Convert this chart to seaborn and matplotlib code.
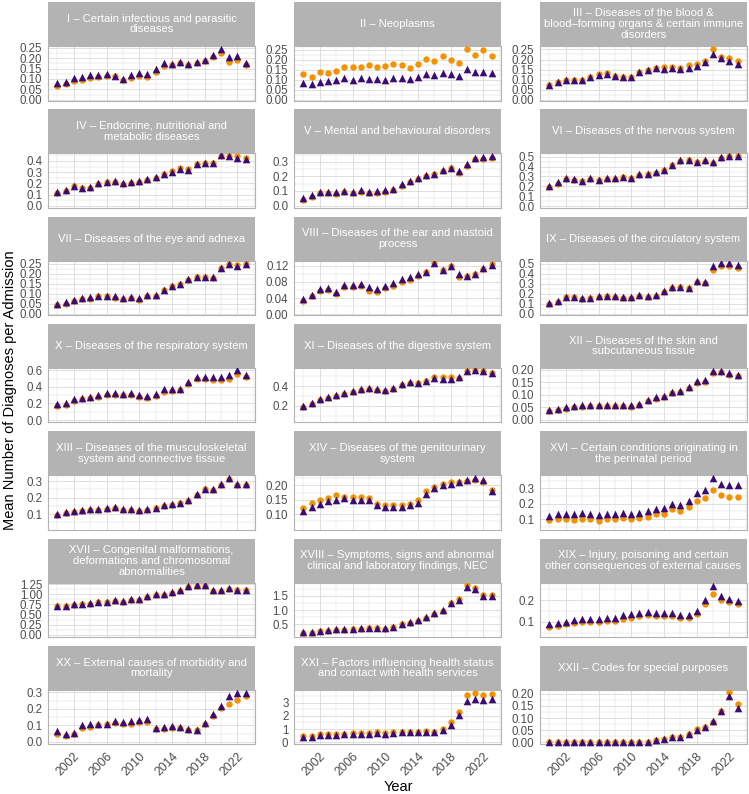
import numpy as np
import pandas as pd
import matplotlib
matplotlib.use("Agg")
import matplotlib.pyplot as plt
import seaborn as sns

# ---------------- data ----------------
years = list(range(2000, 2024))

chapters = ["I", "II", "III", "IV", "V", "VI", "VII", "VIII", "IX", "X", "XI",
            "XII", "XIII", "XIV", "XVI", "XVII", "XVIII", "XIX", "XX", "XXI", "XXII"]

titles = [
    "I – Certain infectious and parasitic\ndiseases",
    "II – Neoplasms",
    "III – Diseases of the blood &\nblood–forming organs & certain immune\ndisorders",
    "IV – Endocrine, nutritional and\nmetabolic diseases",
    "V – Mental and behavioural disorders",
    "VI – Diseases of the nervous system",
    "VII – Diseases of the eye and adnexa",
    "VIII – Diseases of the ear and mastoid\nprocess",
    "IX – Diseases of the circulatory system",
    "X – Diseases of the respiratory system",
    "XI – Diseases of the digestive system",
    "XII – Diseases of the skin and\nsubcutaneous tissue",
    "XIII – Diseases of the musculoskeletal\nsystem and connective tissue",
    "XIV – Diseases of the genitourinary\nsystem",
    "XVI – Certain conditions originating in\nthe perinatal period",
    "XVII – Congenital malformations,\ndeformations and chromosomal\nabnormalities",
    "XVIII – Symptoms, signs and abnormal\nclinical and laboratory findings, NEC",
    "XIX – Injury, poisoning and certain\nother consequences of external causes",
    "XX – External causes of morbidity and\nmortality",
    "XXI – Factors influencing health status\nand contact with health services",
    "XXII – Codes for special purposes",
]

# circles (orange) and triangles (purple)
I_orange = [0.065,0.075,0.09,0.095,0.105,0.11,0.115,0.115,0.095,0.105,0.115,0.11,0.135,0.16,0.165,0.175,0.165,0.175,0.185,0.205,0.225,0.18,0.19,0.165]
I_purple = [0.08,0.085,0.105,0.11,0.12,0.12,0.125,0.115,0.10,0.12,0.13,0.125,0.15,0.175,0.17,0.18,0.17,0.18,0.19,0.215,0.245,0.205,0.21,0.175]
II_orange = [0.13,0.115,0.138,0.135,0.145,0.165,0.162,0.165,0.175,0.165,0.17,0.18,0.172,0.16,0.178,0.202,0.192,0.22,0.198,0.186,0.255,0.225,0.25,0.218]
II_purple = [0.085,0.08,0.09,0.095,0.098,0.107,0.10,0.107,0.105,0.103,0.10,0.108,0.11,0.103,0.112,0.128,0.125,0.135,0.127,0.12,0.152,0.138,0.138,0.135]
III_orange = [0.075,0.088,0.10,0.10,0.10,0.115,0.128,0.132,0.118,0.113,0.112,0.137,0.148,0.16,0.163,0.163,0.16,0.175,0.18,0.193,0.252,0.212,0.21,0.192]
III_purple = [0.075,0.087,0.10,0.10,0.10,0.113,0.125,0.128,0.116,0.112,0.112,0.137,0.146,0.158,0.152,0.158,0.155,0.16,0.168,0.188,0.225,0.207,0.193,0.178]
IV_orange = [0.115,0.135,0.175,0.155,0.16,0.195,0.215,0.215,0.195,0.205,0.215,0.23,0.25,0.28,0.31,0.34,0.325,0.37,0.38,0.38,0.445,0.44,0.44,0.43]
IV_purple = [0.12,0.14,0.18,0.16,0.165,0.20,0.215,0.22,0.20,0.21,0.22,0.235,0.26,0.285,0.305,0.33,0.32,0.37,0.38,0.385,0.45,0.44,0.43,0.42]
V_orange = [0.04,0.06,0.085,0.085,0.08,0.09,0.085,0.095,0.085,0.085,0.095,0.105,0.135,0.165,0.185,0.20,0.215,0.24,0.255,0.225,0.27,0.32,0.32,0.33]
V_purple = [0.05,0.07,0.095,0.095,0.09,0.10,0.095,0.105,0.095,0.10,0.105,0.115,0.145,0.17,0.19,0.21,0.22,0.245,0.26,0.24,0.285,0.33,0.335,0.34]
VI_orange = [0.19,0.225,0.27,0.26,0.25,0.27,0.26,0.275,0.27,0.29,0.28,0.315,0.32,0.34,0.365,0.415,0.46,0.465,0.445,0.46,0.44,0.49,0.505,0.505]
VI_purple = [0.20,0.245,0.285,0.27,0.255,0.28,0.265,0.285,0.28,0.295,0.285,0.32,0.325,0.345,0.37,0.42,0.465,0.47,0.45,0.465,0.445,0.495,0.51,0.51]
VII_orange = [0.045,0.052,0.065,0.075,0.075,0.088,0.088,0.082,0.075,0.08,0.072,0.09,0.092,0.118,0.14,0.148,0.17,0.185,0.185,0.178,0.228,0.25,0.245,0.248]
VII_purple = [0.05,0.06,0.068,0.078,0.085,0.09,0.09,0.088,0.08,0.085,0.078,0.095,0.095,0.12,0.14,0.15,0.172,0.185,0.183,0.182,0.228,0.25,0.24,0.248]
VIII_orange = [0.033,0.044,0.057,0.059,0.05,0.068,0.067,0.069,0.057,0.054,0.064,0.069,0.079,0.085,0.094,0.104,0.126,0.109,0.12,0.092,0.094,0.10,0.112,0.123]
VIII_purple = [0.038,0.048,0.063,0.064,0.054,0.073,0.072,0.074,0.067,0.062,0.07,0.078,0.086,0.092,0.098,0.105,0.126,0.109,0.12,0.098,0.094,0.10,0.113,0.122]
IX_orange = [0.10,0.12,0.165,0.165,0.145,0.155,0.17,0.175,0.17,0.16,0.155,0.18,0.17,0.18,0.215,0.26,0.265,0.255,0.32,0.31,0.44,0.48,0.475,0.455]
IX_purple = [0.11,0.13,0.17,0.17,0.155,0.16,0.175,0.18,0.175,0.17,0.165,0.19,0.18,0.19,0.225,0.265,0.27,0.26,0.325,0.315,0.475,0.505,0.505,0.49]
X_orange = [0.17,0.18,0.23,0.25,0.27,0.28,0.30,0.30,0.30,0.30,0.28,0.27,0.29,0.34,0.35,0.36,0.44,0.50,0.50,0.48,0.48,0.50,0.56,0.52]
X_purple = [0.19,0.20,0.25,0.27,0.28,0.30,0.33,0.33,0.32,0.33,0.30,0.29,0.31,0.37,0.37,0.38,0.46,0.52,0.52,0.52,0.52,0.55,0.60,0.55]
XI_orange = [0.19,0.22,0.26,0.28,0.30,0.32,0.34,0.36,0.37,0.36,0.35,0.37,0.41,0.43,0.43,0.45,0.49,0.49,0.49,0.48,0.55,0.56,0.55,0.53]
XI_purple = [0.20,0.23,0.27,0.29,0.31,0.33,0.35,0.37,0.38,0.37,0.36,0.38,0.42,0.44,0.43,0.45,0.48,0.47,0.47,0.49,0.55,0.56,0.55,0.53]
XII_orange = [0.035,0.04,0.045,0.05,0.052,0.055,0.055,0.055,0.055,0.055,0.053,0.06,0.075,0.085,0.09,0.105,0.11,0.125,0.145,0.15,0.185,0.19,0.18,0.175]
XII_purple = [0.04,0.045,0.05,0.055,0.058,0.06,0.06,0.06,0.06,0.06,0.058,0.065,0.08,0.09,0.095,0.11,0.115,0.13,0.155,0.16,0.195,0.195,0.185,0.18]
XIII_orange = [0.095,0.105,0.115,0.12,0.125,0.125,0.13,0.14,0.125,0.125,0.12,0.125,0.135,0.15,0.155,0.165,0.18,0.215,0.25,0.245,0.275,0.315,0.275,0.275]
XIII_purple = [0.10,0.11,0.12,0.125,0.13,0.13,0.135,0.145,0.13,0.13,0.125,0.13,0.14,0.155,0.16,0.17,0.185,0.22,0.255,0.25,0.28,0.32,0.28,0.28]
XIV_orange = [0.12,0.14,0.15,0.155,0.165,0.16,0.16,0.16,0.155,0.135,0.13,0.13,0.13,0.135,0.15,0.18,0.195,0.205,0.21,0.21,0.215,0.22,0.21,0.185]
XIV_purple = [0.11,0.125,0.135,0.145,0.15,0.155,0.15,0.15,0.15,0.13,0.125,0.125,0.125,0.13,0.14,0.17,0.19,0.20,0.205,0.21,0.22,0.225,0.22,0.18]
XVI_orange = [0.095,0.10,0.10,0.095,0.10,0.10,0.09,0.10,0.10,0.11,0.10,0.105,0.115,0.13,0.135,0.165,0.15,0.18,0.215,0.24,0.29,0.26,0.245,0.245]
XVI_purple = [0.12,0.13,0.135,0.13,0.14,0.135,0.125,0.135,0.13,0.14,0.13,0.14,0.15,0.165,0.17,0.20,0.19,0.22,0.27,0.29,0.37,0.33,0.32,0.32]
XVII_orange = [0.70,0.70,0.73,0.75,0.76,0.80,0.80,0.83,0.82,0.86,0.86,0.93,0.98,0.98,1.03,1.08,1.18,1.20,1.20,1.08,1.08,1.13,1.10,1.10]
XVII_purple = [0.72,0.72,0.75,0.77,0.78,0.82,0.82,0.85,0.84,0.88,0.88,0.95,1.00,1.00,1.05,1.10,1.20,1.22,1.22,1.10,1.10,1.15,1.12,1.12]
XVIII_orange = [0.20,0.20,0.26,0.28,0.30,0.31,0.33,0.34,0.36,0.36,0.34,0.40,0.50,0.56,0.63,0.73,0.88,0.98,1.25,1.40,1.88,1.78,1.55,1.55]
XVIII_purple = [0.22,0.22,0.28,0.30,0.32,0.33,0.35,0.36,0.38,0.38,0.36,0.42,0.52,0.58,0.65,0.75,0.90,1.00,1.25,1.35,1.80,1.75,1.50,1.50]
XIX_orange = [0.075,0.08,0.09,0.095,0.10,0.10,0.10,0.105,0.105,0.115,0.12,0.125,0.13,0.125,0.125,0.125,0.12,0.12,0.135,0.18,0.23,0.20,0.19,0.18]
XIX_purple = [0.09,0.095,0.10,0.11,0.115,0.115,0.115,0.12,0.12,0.13,0.135,0.14,0.145,0.14,0.14,0.14,0.13,0.13,0.15,0.20,0.265,0.22,0.205,0.195]
XX_orange = [0.05,0.035,0.045,0.085,0.09,0.10,0.105,0.115,0.11,0.11,0.12,0.12,0.075,0.08,0.085,0.085,0.07,0.07,0.11,0.155,0.205,0.23,0.255,0.28]
XX_purple = [0.065,0.045,0.055,0.10,0.105,0.11,0.11,0.125,0.12,0.125,0.135,0.14,0.085,0.09,0.095,0.09,0.075,0.072,0.115,0.17,0.22,0.275,0.295,0.295]
XXI_orange = [0.45,0.45,0.60,0.60,0.60,0.65,0.70,0.70,0.70,0.75,0.70,0.75,0.80,0.80,0.80,0.85,0.80,1.00,1.50,2.30,3.60,3.75,3.60,3.65]
XXI_purple = [0.40,0.40,0.55,0.55,0.55,0.60,0.65,0.65,0.65,0.70,0.65,0.70,0.75,0.75,0.75,0.80,0.75,0.90,1.30,2.05,3.15,3.30,3.20,3.30]
XXII_orange = [0,0,0,0,0,0,0,0,0,0,0,0,0.002,0.008,0.012,0.02,0.02,0.035,0.055,0.065,0.085,0.13,0.208,0.158]
XXII_purple = [0,0,0,0,0,0,0,0,0,0,0,0,0.003,0.01,0.013,0.02,0.02,0.035,0.05,0.065,0.09,0.13,0.19,0.14]

# y tick labels per panel
ytick_labels = {
    "I": ["0.00", "0.05", "0.10", "0.15", "0.20", "0.25"],
    "II": ["0.00", "0.05", "0.10", "0.15", "0.20", "0.25"],
    "III": ["0.00", "0.05", "0.10", "0.15", "0.20", "0.25"],
    "IV": ["0.0", "0.1", "0.2", "0.3", "0.4"],
    "V": ["0.0", "0.1", "0.2", "0.3"],
    "VI": ["0.0", "0.1", "0.2", "0.3", "0.4", "0.5"],
    "VII": ["0.00", "0.05", "0.10", "0.15", "0.20", "0.25"],
    "VIII": ["0.00", "0.04", "0.08", "0.12"],
    "IX": ["0.0", "0.1", "0.2", "0.3", "0.4", "0.5"],
    "X": ["0.0", "0.2", "0.4", "0.6"],
    "XI": ["0.2", "0.4"],
    "XII": ["0.00", "0.05", "0.10", "0.15", "0.20"],
    "XIII": ["0.1", "0.2", "0.3"],
    "XIV": ["0.10", "0.15", "0.20"],
    "XVI": ["0.1", "0.2", "0.3"],
    "XVII": ["0.00", "0.25", "0.50", "0.75", "1.00", "1.25"],
    "XVIII": ["0.5", "1.0", "1.5"],
    "XIX": ["0.1", "0.2"],
    "XX": ["0.0", "0.1", "0.2", "0.3"],
    "XXI": ["0", "1", "2", "3"],
    "XXII": ["0.00", "0.05", "0.10", "0.15", "0.20"],
}
xtick_years = [2002, 2006, 2010, 2014, 2018, 2022]

# ---------------- style / layout (not data) ----------------
ylims = {
    "I": (-0.003, 0.258), "II": (-0.003, 0.269), "III": (-0.003, 0.267),
    "IV": (-0.018, 0.468), "V": (-0.016, 0.359), "VI": (-0.017, 0.534),
    "VII": (-0.006, 0.266), "VIII": (-0.002, 0.132), "IX": (-0.012, 0.533),
    "X": (-0.03, 0.63), "XI": (0.03, 0.585), "XII": (-0.01, 0.206),
    "XIII": (0.005, 0.335), "XIV": (0.045, 0.235), "XVI": (0.03, 0.385),
    "XVII": (-0.06, 1.29), "XVIII": (0.05, 1.97), "XIX": (0.03, 0.28),
    "XX": (-0.016, 0.314), "XXI": (-0.17, 3.95), "XXII": (-0.009, 0.216),
}

ORANGE = "#F39200"
PURPLE = "#3A0B74"
GRID = "#DEDEDE"
BORDER = "#B3B3B3"
TICKTXT = "#4D4D4D"
FONT = ["Liberation Sans", "DejaVu Sans"]

sns.set_theme(style="white")
plt.rcParams["font.family"] = FONT

rows = []
ns = globals()
for ch in chapters:
    o = ns[f"{ch}_orange"]
    p = ns[f"{ch}_purple"]
    assert len(o) == len(years) and len(p) == len(years), ch
    for y, vo, vp in zip(years, o, p):
        rows.append({"chapter": ch, "year": y, "source": "orange", "value": vo})
        rows.append({"chapter": ch, "year": y, "source": "purple", "value": vp})
df = pd.DataFrame(rows)

W, H = 749, 794
fig = plt.figure(figsize=(W / 100, H / 100), dpi=100)
fig.patch.set_facecolor("white")

col_left = [48, 294, 540]
panel_w = 207
row_top0 = 46
row_pitch = 107.33
panel_h = 54.5
strip_h = 44

xlo, xhi = years[0] - 0.05 * (years[-1] - years[0]), years[-1] + 0.05 * (years[-1] - years[0])

for i, (ch, title) in enumerate(zip(chapters, titles)):
    r, c = divmod(i, 3)
    top = row_top0 + r * row_pitch
    left = col_left[c]
    ax = fig.add_axes([left / W, 1 - (top + panel_h) / H, panel_w / W, panel_h / H])
    sax = fig.add_axes([left / W, 1 - top / H, panel_w / W, strip_h / H])
    sax.set_facecolor(BORDER)
    sax.set_xticks([]); sax.set_yticks([])
    for s in sax.spines.values():
        s.set_visible(False)
    sax.text(0.5, 0.5, title, ha="center", va="center", color="white",
             fontsize=8.1, linespacing=1.12, transform=sax.transAxes)

    sub = df[df.chapter == ch]
    ax.set_facecolor("white")
    sns.scatterplot(data=sub[sub.source == "orange"], x="year", y="value", color=ORANGE,
                    marker="o", s=21, linewidth=0, ax=ax, legend=False, zorder=3, clip_on=False)
    sns.scatterplot(data=sub[sub.source == "purple"], x="year", y="value", color=PURPLE,
                    marker="^", s=30, linewidth=0, ax=ax, legend=False, zorder=4, clip_on=False)

    ax.set_xlim(xlo, xhi)
    lo, hi = ylims[ch]
    ax.set_ylim(lo, hi)
    labs = ytick_labels[ch]
    ticks = [float(t) for t in labs]
    ax.set_yticks(ticks)
    ax.set_yticklabels(labs)
    step = ticks[1] - ticks[0]
    minors = [t + step / 2 for t in ([ticks[0] - step] + ticks)]
    minors = [m for m in minors if lo <= m <= hi]
    ax.set_yticks(minors, minor=True)
    ax.set_xticks(xtick_years)
    ax.set_xticks([2000, 2004, 2008, 2012, 2016, 2020, 2024], minor=True)

    ax.grid(which="major", color=GRID, linewidth=0.7, zorder=0)
    ax.grid(which="minor", color=GRID, linewidth=0.35, zorder=0)
    ax.set_axisbelow(True)
    for s in ax.spines.values():
        s.set_color(BORDER)
        s.set_linewidth(0.8)
    ax.tick_params(axis="y", which="major", length=2.5, width=0.6, color=BORDER,
                   labelsize=8.3, labelcolor=TICKTXT, pad=1.5)
    ax.tick_params(which="minor", length=0)
    ax.set_xlabel(""); ax.set_ylabel("")
    if r == 6:
        ax.tick_params(axis="x", which="major", length=2.5, width=0.6, color=BORDER,
                       labelsize=8.8, labelcolor=TICKTXT, pad=1.5)
        ax.set_xticklabels([str(y) for y in xtick_years], rotation=45, ha="right",
                           va="top", rotation_mode="anchor")
    else:
        ax.tick_params(axis="x", which="major", length=0, labelbottom=False)

fig.text(10 / W, 1 - 390 / H, "Mean Number of Diagnoses per Admission", rotation=90,
         ha="center", va="center", fontsize=10.5, color="black")
fig.text(398 / W, 1 - 787 / H, "Year", ha="center", va="center", fontsize=10.5, color="black")

fig.savefig("out.png", dpi=100, facecolor="white")
